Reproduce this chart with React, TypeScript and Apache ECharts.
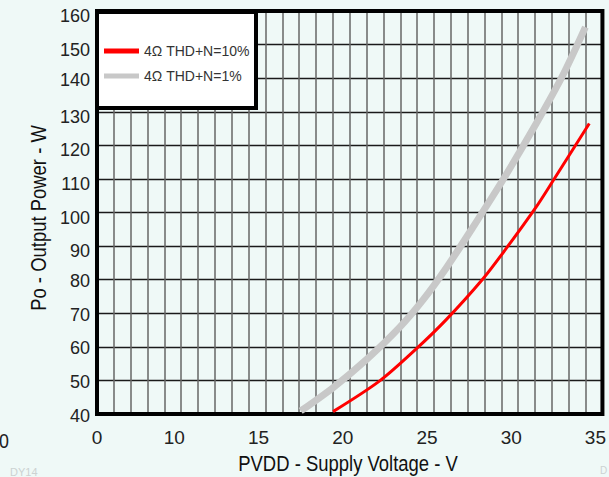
import React, { useEffect, useRef } from "react";
import * as echarts from "echarts";

// Data (x in the chart's grid units, y in W)
const redVoltage = [19.01, 21.78, 23.95, 25.73, 27.9, 29.29, 31.06, 32.05, 34.22];
const redPower = [40.7, 49.85, 59.4, 68.1, 80.2, 89.3, 101.6, 109.3, 126.5];
const grayVoltage = [17.09, 19.01, 20.99, 22.96, 24.34, 25.73, 27.31, 29.08, 31.06, 32.64, 33.99];
const grayPower = [40.9, 47.85, 56.2, 65.8, 73.9, 83.5, 95.6, 109.6, 126.4, 140.8, 155.2];
const seriesNames = ["4Ω THD+N=10%", "4Ω THD+N=1%"];
const xLabelValues = [10, 15, 20, 25, 30, 35];
const yTitle = "Po - Output Power - W";
const xTitle = "PVDD - Supply Voltage - V";

const SANS = "'Liberation Sans', Arial, sans-serif";

export default function App() {
  const ref = useRef<HTMLDivElement>(null);
  useEffect(() => {
    if (!ref.current) return;
    const chart = echarts.init(ref.current, undefined, { renderer: "svg" });
    const red = redVoltage.map((v, i) => [v, redPower[i]]);
    const gray = grayVoltage.map((v, i) => [v, grayPower[i]]);
    chart.setOption({
      animation: false,
      backgroundColor: "#eff9f7",
      grid: {
        left: 97,
        right: 6,
        top: 11,
        bottom: 63,
        show: true,
        borderColor: "#000",
        borderWidth: 4,
        z: 5,
      },
      xAxis: {
        type: "value",
        min: 5,
        max: 35,
        interval: 1,
        axisLine: { show: false },
        axisTick: { show: false },
        splitLine: { show: true, lineStyle: { color: "#666", width: 1.5 } },
        axisLabel: {
          interval: 0,
          margin: 14,
          color: "#222",
          fontFamily: SANS,
          fontSize: 19,
          formatter: (v: number) => {
            if (v === 5) return "{a|0}";
            if (xLabelValues.indexOf(v) >= 0) return "{b|" + v + "}";
            return "";
          },
          rich: {
            a: { fontFamily: SANS, fontSize: 19, color: "#222" },
            b: { fontFamily: SANS, fontSize: 19, color: "#222", padding: [0, 14, 0, 0] },
          },
        },
      },
      yAxis: {
        type: "value",
        min: 40,
        max: 160,
        interval: 10,
        axisLine: { show: false },
        axisTick: { show: false },
        splitLine: { show: true, lineStyle: { color: "#1a1a1a", width: 1.4 } },
        axisLabel: {
          margin: 7,
          color: "#222",
          fontFamily: SANS,
          fontSize: 18,
          formatter: (v: number) => (v >= 90 && v !== 140 ? "{d|" + v + "}" : "{c|" + v + "}"),
          rich: {
            c: { fontFamily: SANS, fontSize: 18, color: "#222", padding: [3, 0, 0, 0] },
            d: { fontFamily: SANS, fontSize: 18, color: "#222", padding: [10, 0, 0, 0] },
          },
        },
      },
      legend: {
        show: true,
        orient: "vertical",
        left: 104,
        top: 44,
        padding: 0,
        itemWidth: 35,
        itemHeight: 5,
        itemGap: 11,
        icon: "rect",
        z: 30,
        textStyle: { fontFamily: SANS, fontSize: 14, color: "#333", lineHeight: 14 },
        data: seriesNames,
      },
      graphic: [
        {
          type: "rect",
          z: 20,
          shape: { x: 97, y: 12, width: 159, height: 96 },
          style: { fill: "#fff", stroke: "#000", lineWidth: 4 },
        },
        {
          type: "text",
          x: 348,
          y: 463,
          scaleX: 0.84,
          style: { text: xTitle, fontFamily: SANS, fontSize: 22, fill: "#111", align: "center", verticalAlign: "middle" },
        },
        {
          type: "text",
          x: 38,
          y: 218,
          rotation: Math.PI / 2,
          scaleX: 0.84,
          style: { text: yTitle, fontFamily: SANS, fontSize: 22, fill: "#111", align: "center", verticalAlign: "middle" },
        },
        {
          type: "text",
          x: 4,
          y: 440,
          scaleX: 0.85,
          style: { text: "0", fontFamily: SANS, fontSize: 21, fill: "#222", align: "center", verticalAlign: "middle" },
        },
        {
          type: "text",
          x: 10,
          y: 472,
          style: { text: "DY14", fontFamily: SANS, fontSize: 11, fill: "#ccd2d2", verticalAlign: "middle" },
        },
        {
          type: "text",
          x: 600,
          y: 470,
          style: { text: "D", fontFamily: SANS, fontSize: 10, fill: "#ccd2d2", verticalAlign: "middle" },
        },
      ],
      series: [
        {
          name: seriesNames[0],
          type: "line",
          data: red,
          smooth: 0.3,
          showSymbol: false,
          symbol: "none",
          z: 10,
          itemStyle: { color: "#ff0000" },
          lineStyle: { color: "#ff0000", width: 3 },
        },
        {
          name: seriesNames[1],
          type: "line",
          data: gray,
          smooth: 0.3,
          showSymbol: false,
          symbol: "none",
          z: 9,
          itemStyle: { color: "#c8c8c8" },
          lineStyle: { color: "#c8c8c8", width: 7 },
        },
      ],
    });
    return () => chart.dispose();
  }, []);
  return (
    <div
      ref={ref}
      style={{ position: "fixed", left: 0, top: 0, width: 609, height: 477 }}
    />
  );
}
